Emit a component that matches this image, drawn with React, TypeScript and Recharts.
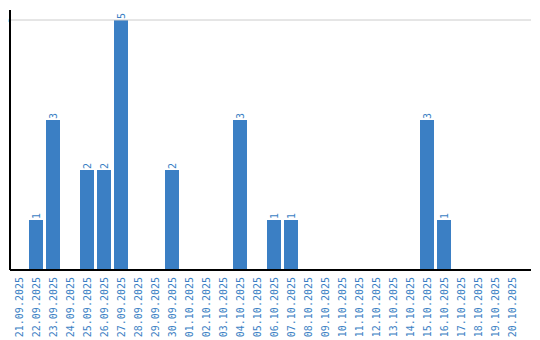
import React from "react";
import { BarChart, Bar, XAxis, YAxis, ReferenceLine, LabelList } from "recharts";

const dates = [
  "21.09.2025", "22.09.2025", "23.09.2025", "24.09.2025", "25.09.2025", "26.09.2025",
  "27.09.2025", "28.09.2025", "29.09.2025", "30.09.2025", "01.10.2025", "02.10.2025",
  "03.10.2025", "04.10.2025", "05.10.2025", "06.10.2025", "07.10.2025", "08.10.2025",
  "09.10.2025", "10.10.2025", "11.10.2025", "12.10.2025", "13.10.2025", "14.10.2025",
  "15.10.2025", "16.10.2025", "17.10.2025", "18.10.2025", "19.10.2025", "20.10.2025",
];
const counts = [0, 1, 3, 0, 2, 2, 5, 0, 0, 2, 0, 0, 0, 3, 0, 1, 1, 0, 0, 0, 0, 0, 0, 0, 3, 1, 0, 0, 0, 0];
const yTicks = [5];

const data = dates.map((d, i) => ({ date: d, value: counts[i] }));

const BLUE = "#3b7fc4";
const FONT = "DejaVu Sans Mono, Liberation Mono, monospace";

const XTick = (props: any) => {
  const { x, y, payload } = props;
  return (
    <text
      x={0}
      y={0}
      transform={`translate(${x + 4},${y - 1}) rotate(-90)`}
      textAnchor="end"
      fill={BLUE}
      fontSize={10}
      fontFamily={FONT}
    >
      {payload.value}
    </text>
  );
};

const YTick = (props: any) => {
  const { y, payload } = props;
  return (
    <text
      x={0}
      y={0}
      transform={`translate(8,${y}) rotate(-90)`}
      textAnchor="middle"
      fill="#000"
      fontSize={10}
      fontFamily={FONT}
    >
      {payload.value}
    </text>
  );
};

const BarLabel = (props: any) => {
  const { x, y, width, value } = props;
  if (!value) return null;
  const cx = x + width / 2 + 4;
  return (
    <text
      x={0}
      y={0}
      transform={`translate(${cx},${y - 1}) rotate(-90)`}
      textAnchor="start"
      fill={BLUE}
      fontSize={10}
      fontFamily={FONT}
    >
      {value}
    </text>
  );
};

export default function App() {
  return (
    <BarChart
      width={540}
      height={340}
      data={data}
      margin={{ top: 10, right: 9, left: 0, bottom: 0 }}
      barSize={14}
      style={{ marginLeft: -8, marginTop: -8 }}
    >
      <ReferenceLine y={5} stroke="#cccccc" strokeWidth={1} />
      <XAxis
        dataKey="date"
        interval={0}
        height={70}
        tick={<XTick />}
        tickLine={false}
        padding={{ left: 0, right: 11 }}
        axisLine={{ stroke: "#000", strokeWidth: 2 }}
      />
      <YAxis
        width={10}
        domain={[0, 5.2]}
        ticks={yTicks}
        tick={<YTick />}
        tickLine={false}
        axisLine={{ stroke: "#000", strokeWidth: 2 }}
      />
      <Bar dataKey="value" fill={BLUE} isAnimationActive={false}>
        <LabelList dataKey="value" content={<BarLabel />} />
      </Bar>
    </BarChart>
  );
}
